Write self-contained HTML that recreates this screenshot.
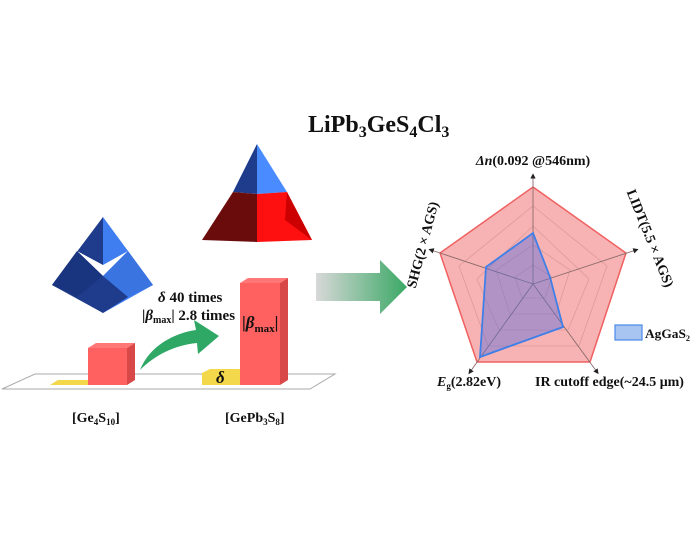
<!DOCTYPE html>
<html><head><meta charset="utf-8"><style>
html,body{margin:0;padding:0;background:#fff;}
svg text{font-family:"Liberation Serif",serif;font-weight:bold;fill:#111;}
</style></head><body>
<svg width="700" height="545" viewBox="0 0 700 545" xmlns="http://www.w3.org/2000/svg">
<defs>
<linearGradient id="ag" x1="0" x2="1" y1="0" y2="0"><stop offset="0" stop-color="#d8d8d8"/><stop offset="1" stop-color="#3aa865"/></linearGradient>
<marker id="ar" markerWidth="6" markerHeight="6" refX="3" refY="3" orient="auto"><path d="M0,0 L6,3 L0,6 z" fill="#222"/></marker>
</defs>
<text x="308" y="132" font-size="24">LiPb<tspan font-size="16" dy="5">3</tspan><tspan dy="-5">GeS</tspan><tspan font-size="16" dy="5">4</tspan><tspan dy="-5">Cl</tspan><tspan font-size="16" dy="5">3</tspan></text>

<polygon points="103,217 52,285 103,313" fill="#1f3c8c"/>
<polygon points="103,217 153,285 103,313" fill="#3f7ef0"/>
<polygon points="77,251 103,265 128,251 103,276" fill="#fff"/>
<polygon points="77,251 103,276 77,297 52,285" fill="#1a3580"/>
<polygon points="128,251 103,276 128,297 153,285" fill="#3a74e0"/>
<polygon points="103,276 77,297 103,313 128,297" fill="#1f3c8c"/>

<polygon points="257,144 233,192 257,194" fill="#1f3c8c"/>
<polygon points="257,144 257,194 287,192" fill="#4a8cff"/>
<polygon points="233,192 257,194 257,242 202,240" fill="#6b0c0c"/>
<polygon points="257,194 287,192 312,240 257,242" fill="#ff1010"/>
<polygon points="287,192 312,240 285,220" fill="#cc0000"/>

<polygon points="2,389 35,374 335,374 310,389" fill="none" stroke="#aaa" stroke-width="1"/>
<polygon points="50,385 58,380 88,380 88,385" fill="#f2d84a"/>
<polygon points="202,385 202,373 210,369 240,369 240,385" fill="#f2d84a"/>
<text x="216" y="383" font-size="17" font-style="italic">δ</text>
<rect x="88" y="348" width="39" height="37" fill="#ff6060"/>
<polygon points="88,348 96,343 135,343 127,348" fill="#ff7777"/>
<polygon points="127,348 135,343 135,380 127,385" fill="#d94848"/>
<rect x="240" y="283" width="40" height="102" fill="#ff6060"/>
<polygon points="240,283 248,278 288,278 280,283" fill="#ff7777"/>
<polygon points="280,283 288,278 288,380 280,385" fill="#d94848"/>
<text x="242" y="328" font-size="17">|<tspan font-style="italic">β</tspan><tspan font-size="11" dy="4">max</tspan><tspan dy="-4">|</tspan></text>
<path d="M140,370 C150,345 175,333 196,330 L194,320 L219,336 L198,354 L197,343 C175,345 155,355 140,370 z" fill="#2fa866"/>
<text x="158" y="302" font-size="15"><tspan font-style="italic">δ</tspan>   40 times</text>
<text x="142" y="320" font-size="15">|<tspan font-style="italic">β</tspan><tspan font-size="10" dy="3">max</tspan><tspan dy="-3">| 2.8 times</tspan></text>
<text x="72" y="422" font-size="14">[Ge<tspan font-size="9" dy="3">4</tspan><tspan dy="-3">S</tspan><tspan font-size="9" dy="3">10</tspan><tspan dy="-3">]</tspan></text>
<text x="225" y="422" font-size="14">[GePb<tspan font-size="9" dy="3">3</tspan><tspan dy="-3">S</tspan><tspan font-size="9" dy="3">8</tspan><tspan dy="-3">]</tspan></text>

<polygon points="316,273 380,273 380,260 407,287 380,314 380,301 316,301" fill="url(#ag)"/>

<polygon points="533,187 626,253 590,362 477,362 440,253" fill="#f7b3b3" stroke="#f06060" stroke-width="1.5"/>
<g stroke="#d99" stroke-width="0.8" fill="none">
<polygon points="533,206 607,266 579,346 488,346 459,266"/>
<polygon points="533,226 589,279 568,330 499,330 477,279"/>
<polygon points="533,245 570,270 556,314 510,314 496,270"/>
<polygon points="533,265 552,277 545,298 522,298 515,277"/>
</g>
<g stroke="#8a6a6a" stroke-width="0.9" marker-end="url(#ar)">
<line x1="533" y1="284" x2="533" y2="176"/>
<line x1="533" y1="284" x2="636" y2="250"/>
<line x1="533" y1="284" x2="597" y2="372"/>
<line x1="533" y1="284" x2="470" y2="372"/>
<line x1="533" y1="284" x2="431" y2="250"/>
</g>
<polygon points="533,233 550,277 563,327 480,357 486,267" fill="rgba(90,110,220,0.45)" stroke="#3f7fe8" stroke-width="1.8"/>
<rect x="615" y="325" width="27" height="15" fill="#a8c4f0" stroke="#4a88e8" stroke-width="1.2"/>
<text x="645" y="338" font-size="13" textLength="45" lengthAdjust="spacingAndGlyphs">AgGaS<tspan font-size="8" dy="3">2</tspan></text>
<text x="533" y="165" font-size="14" text-anchor="middle"><tspan font-style="italic">Δn</tspan>(0.092 @546nm)</text>
<text x="0" y="0" font-size="14" text-anchor="middle" transform="translate(646,240) rotate(68)">LIDT(5.5 × AGS)</text>
<text x="0" y="0" font-size="14" text-anchor="middle" transform="translate(427,246) rotate(-75)">SHG(2 × AGS)</text>
<text x="437" y="386" font-size="14"><tspan font-style="italic">E</tspan><tspan font-size="9" dy="3">g</tspan><tspan dy="-3">(2.82eV)</tspan></text>
<text x="535" y="386" font-size="14">IR cutoff edge(~24.5 μm)</text>
</svg>
</body></html>
